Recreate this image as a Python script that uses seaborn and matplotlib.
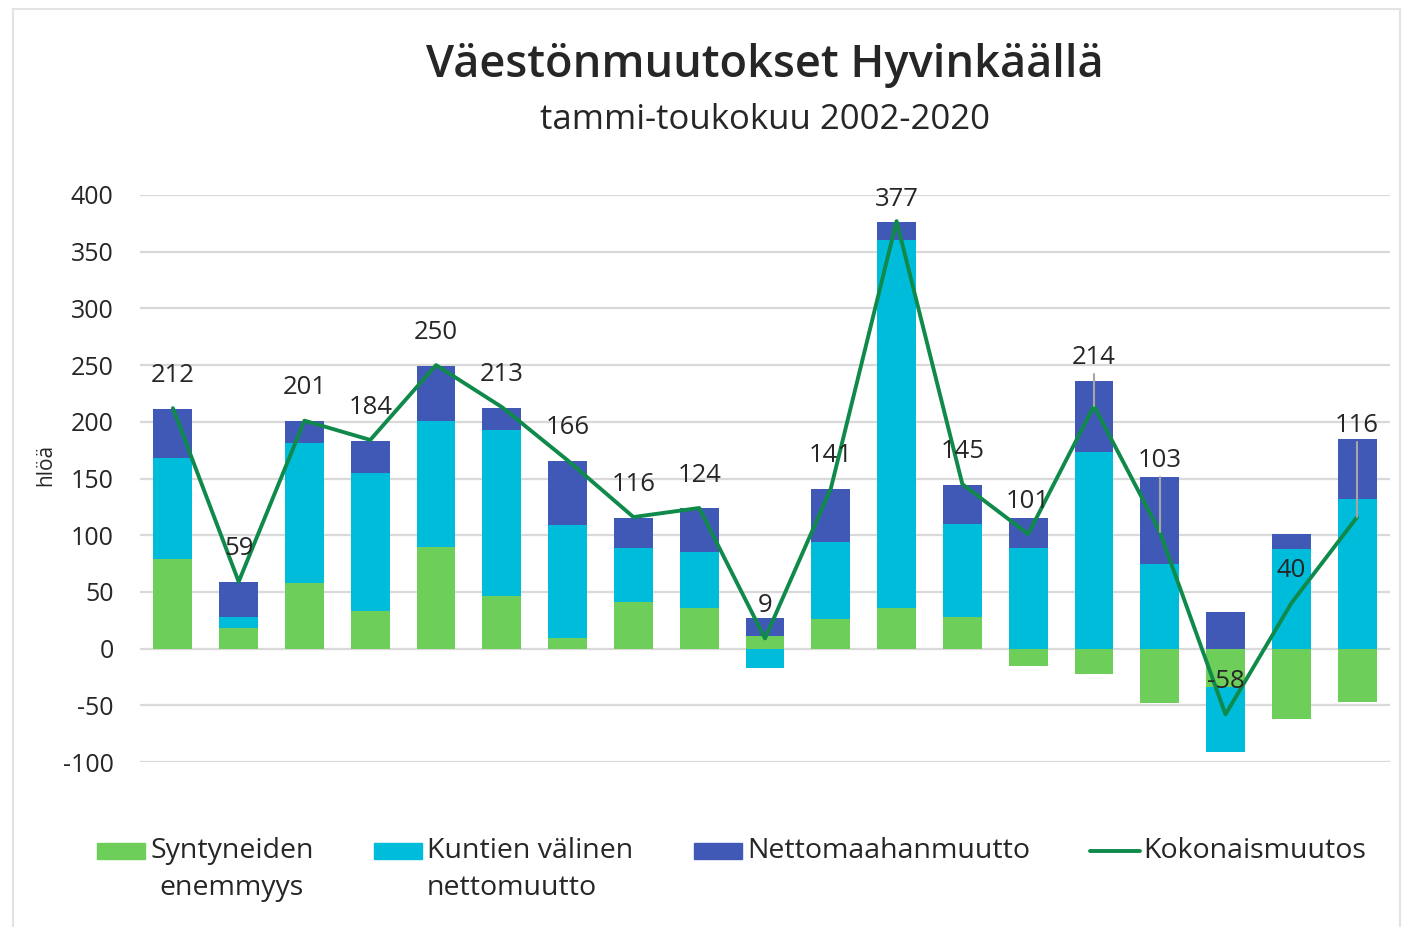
import numpy as np
import pandas as pd
import matplotlib
matplotlib.use("Agg")
import matplotlib.pyplot as plt
import seaborn as sns
from matplotlib.patches import Rectangle
from matplotlib.lines import Line2D

years = [str(y) for y in range(2002, 2021)]
syntyneet = [79, 18, 58, 33, 90, 46, 9, 41, 36, 11, 26, 36, 28, -15, -22, -48, -34, -62, -47]
kuntien = [89, 10, 123, 122, 111, 147, 100, 48, 49, -17, 68, 324, 82, 89, 173, 75, -57, 88, 132]
maahan = [43, 31, 20, 28, 48, 19, 56, 26, 39, 16, 47, 16, 34, 26, 63, 76, 32, 13, 53]
kokonais = [212, 59, 201, 184, 250, 213, 166, 116, 124, 9, 141, 377, 145, 101, 214, 103, -58, 40, 116]

c_green, c_cyan, c_blue, c_line = "#6dcf5a", "#00bcdb", "#4059b7", "#0f8a4a"
txt = "#262626"
font = ["Open Sans", "DejaVu Sans"]

sns.set_theme(style="white")
plt.rcParams["font.family"] = font
plt.rcParams["axes.unicode_minus"] = False

# cumulative stacks, positives up and negatives down
layers = np.array([syntyneet, kuntien, maahan], dtype=float)
pos = np.cumsum(np.clip(layers, 0, None), axis=0)
neg = np.cumsum(np.clip(layers, None, 0), axis=0)

fig = plt.figure(figsize=(14.02, 9.27), dpi=100)
ax = fig.add_axes([140 / 1402, 1 - 762 / 927, 1250 / 1402, 567 / 927])

for i, col in [(2, c_blue), (1, c_cyan), (0, c_green)]:
    for stack in (pos, neg):
        df = pd.DataFrame({"vuosi": years, "arvo": stack[i]})
        sns.barplot(data=df, x="vuosi", y="arvo", color=col, width=0.59,
                    errorbar=None, saturation=1, ax=ax, zorder=2, linewidth=0)

sns.lineplot(x=np.arange(len(years)), y=kokonais, color=c_line, linewidth=2.8,
             ax=ax, zorder=4)

# data labels (offset in data units, a few moved with leader lines)
lift = {11: 19, 14: 43, 15: 63, 18: 81}
for i, v in enumerate(kokonais):
    dy = lift.get(i, 29)
    ax.text(i, v + dy, str(v), ha="center", va="center", fontsize=18.5, color=txt,
            zorder=5, clip_on=False)
    if i in lift and dy > 30:
        ax.plot([i, i], [v + dy - 15, v], color="#a6a6a6", linewidth=1.5, zorder=4.5)

ax.set_xlim(-0.5, len(years) - 0.5)
ax.set_ylim(-100, 400)
ax.set_yticks(np.arange(-100, 401, 50))
ax.set_xticks([])
ax.set_xlabel("")
ax.set_ylabel("hlöä", fontsize=15, color=txt)
ax.yaxis.set_label_coords(-(140 - 56) / 1250, 0.524)
ax.tick_params(axis="y", length=0, pad=19, labelsize=18, labelcolor=txt)
ax.grid(axis="y", color="#d9d9d9", linewidth=1.6, zorder=0)
ax.set_axisbelow(True)
sns.despine(ax=ax, left=True, bottom=True)

fig.text(765 / 1402, 1 - 65 / 927, "Väestönmuutokset Hyvinkäällä", ha="center", va="center",
         fontsize=32.5, fontweight="semibold", color=txt)
fig.text(765 / 1402, 1 - 120 / 927, "tammi-toukokuu 2002-2020", ha="center", va="center",
         fontsize=25, color=txt)

# legend drawn by hand to match the layout
W, H = 1402, 927
legend_items = [
    ("patch", c_green, 97, "Syntyneiden\nenemmyys", "center"),
    ("patch", c_cyan, 374, "Kuntien välinen\nnettomuutto", "left"),
    ("patch", c_blue, 694, "Nettomaahanmuutto", "left"),
    ("line", c_line, 1090, "Kokonaismuutos", "left"),
]
ly = 851
for kind, col, x0, label, malign in legend_items:
    if kind == "patch":
        fig.patches.append(Rectangle((x0 / W, 1 - (ly + 8) / H), 48 / W, 16 / H,
                                     transform=fig.transFigure, color=col))
    else:
        fig.lines.append(Line2D([x0 / W, (x0 + 50) / W], [1 - ly / H, 1 - ly / H],
                                transform=fig.transFigure, color=col, linewidth=2.8))
    fig.text((x0 + 53) / W, 1 - (ly - 14) / H, label, ha="left", va="top",
             fontsize=20.5, color=txt, linespacing=1.41, multialignment=malign)

fig.patches.append(Rectangle((13 / W, -0.01), 1387 / W, 1 - 9 / H + 0.01,
                             transform=fig.transFigure, fill=False,
                             edgecolor="#e3e3e3", linewidth=1.5))

fig.savefig("out.png", dpi=100, facecolor="white")
